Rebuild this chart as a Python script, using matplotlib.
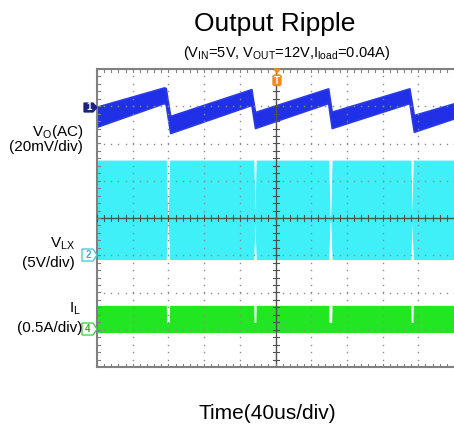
import numpy as np
import matplotlib
matplotlib.use('Agg')
import matplotlib.pyplot as plt
from matplotlib.patches import Polygon, FancyBboxPatch

plt.rcParams['font.family'] = ['Liberation Sans', 'DejaVu Sans']
plt.rcParams['mathtext.fontset'] = 'custom'
plt.rcParams['mathtext.rm'] = 'Liberation Sans'
plt.rcParams['mathtext.default'] = 'regular'

# ---------------- data ----------------
title = 'Output Ripple'
subtitle = r'(V$_{IN}$=5V, V$_{OUT}$=12V,I$_{load}$=0.04A)'
xlabel = 'Time(40us/div)'

time_per_div = 40.0          # us / div
# channel scale (units/div) and offset (div)
ch1_scale, ch1_offset = 20.0, 3.0    # mV/div
ch2_scale, ch2_offset = 5.0, -1.0    # V/div
ch4_scale, ch4_offset = 0.5, -3.0    # A/div

# Ch1 : output ripple (AC, mV) - envelope of the noisy trace
ripple_t = [-200, -125, -123, -118, -27, -23, 59, 63, 150, 155, 200]
ripple_hi = [-0.2, 10.1, 9.8, -5.2, 9.2, -3.1, 9.6, -2.9, 9.6, -4.7, 1.6]
ripple_lo = [-11.0, 1.7, 1.0, -14.4, 0.7, -11.7, 1.7, -11.7, 1.7, -13.7, -6.5]

# idle gaps between switching bursts (us)
gap_start = [-123, -25, 59, 151]
gap_end = [-118, -21, 64, 155]

# Ch2 : V_LX switching node (V)
vlx_high, vlx_low, vlx_idle = 12.7, -0.5, 5.0
# Ch4 : inductor current (A)
il_high, il_low, il_idle = 0.32, -0.03, 0.09

# ---------------- figure ----------------
W, H = 454, 425
fig = plt.figure(figsize=(W / 100, H / 100), dpi=100)
fig.patch.set_facecolor('white')

def fx(x):
    return x / W

def fy(y):
    return 1 - y / H

ax_l, ax_r, ax_t, ax_b = 97, 454, 69, 367
ax = fig.add_axes([fx(ax_l), fy(ax_b), (ax_r - ax_l) / W, (ax_b - ax_t) / H])
ax.set_xlim(-5, 5)
ax.set_ylim(-4, 4)
ax.set_xticks([])
ax.set_yticks([])
for s in ['left', 'top', 'bottom']:
    ax.spines[s].set_color('#808080')
    ax.spines[s].set_linewidth(1.5)
ax.spines['right'].set_visible(False)

# traces
rt = np.array(ripple_t) / time_per_div
ax.fill_between(rt, ch1_offset + np.array(ripple_hi) / ch1_scale,
                ch1_offset + np.array(ripple_lo) / ch1_scale,
                color='#1f30e6', lw=1.2, edgecolor='#2a3ae8', zorder=2)

def burst_envelope(high, low, idle_hi, idle_lo, ramp):
    ts, hi, lo = [-200.0], [high], [low]
    for s, e in zip(gap_start, gap_end):
        ts += [s, s + ramp, e - ramp, e]
        hi += [high, idle_hi, idle_hi, high]
        lo += [low, idle_lo, idle_lo, low]
    ts.append(200.0); hi.append(high); lo.append(low)
    return np.array(ts), np.array(hi), np.array(lo)

ts, hi, lo = burst_envelope(vlx_high, vlx_low, vlx_idle + 0.25, vlx_idle - 0.25, 1.5)
ax.fill_between(ts / time_per_div, ch2_offset + hi / ch2_scale, ch2_offset + lo / ch2_scale,
                color='#3ff0f8', lw=0.8, edgecolor='#3ff0f8', zorder=2)

ts, hi, lo = burst_envelope(il_high, il_low, il_idle, il_low, 0.4)
ax.fill_between(ts / time_per_div, ch4_offset + hi / ch4_scale, ch4_offset + lo / ch4_scale,
                color='#22e622', lw=0.8, edgecolor='#22e622', zorder=2)

# graticule: dotted grid
dot_c = '#8c8c8c'
ys = np.arange(-4, 4.001, 0.2)
xs = np.arange(-5, 5.001, 0.2)
for xi in range(-4, 5):
    if xi == 0:
        continue
    ax.plot(np.full_like(ys, xi), ys, ls='none', marker='s', ms=1.0, mew=0,
            color=dot_c, zorder=3)
for yi in range(-3, 4):
    if yi == 0:
        continue
    ax.plot(xs, np.full_like(xs, yi), ls='none', marker='s', ms=1.0, mew=0,
            color=dot_c, zorder=3)

# centre crosshair with minor ticks
cc = '#505050'
ax.axhline(0, color=cc, lw=1.0, zorder=3)
ax.axvline(0, color=cc, lw=1.0, zorder=3)
tx = 3 / 37.25
ty = 3 / 35.7
for x in xs:
    ax.plot([x, x], [-tx, tx], color=cc, lw=0.8, zorder=3)
    ax.plot([x, x], [4, 4 - tx], color='#808080', lw=0.8, zorder=3)
    ax.plot([x, x], [-4, -4 + tx], color='#808080', lw=0.8, zorder=3)
for y in ys:
    ax.plot([-ty, ty], [y, y], color=cc, lw=0.8, zorder=3)
    ax.plot([-5, -5 + ty], [y, y], color='#808080', lw=0.8, zorder=3)

# ---------------- channel markers ----------------
def marker(x0, x1, y0, y1, fc, ec, label, tc):
    xm = x1 - 4
    ym = (y0 + y1) / 2
    pts = [(x0, y0), (xm, y0), (x1, ym), (xm, y1), (x0, y1)]
    fig.patches.append(Polygon([(fx(a), fy(b)) for a, b in pts], closed=True,
                               transform=fig.transFigure, fc=fc, ec=ec, lw=0.9))
    fig.text(fx((x0 + xm) / 2 + 0.5), fy(ym), label, ha='center', va='center',
             fontsize=7, color=tc, fontweight='bold')

marker(84, 97, 103, 112, '#1a2480', '#1a2480', '1', 'white')
marker(82, 97, 249, 261, 'white', '#38c8d0', '2', '#38b8c0')
marker(82, 97, 323, 335, 'white', '#40c840', '4', '#30b030')

# trigger marker
org = '#f08c1e'
fig.patches.append(Polygon([(fx(274), fy(69)), (fx(280), fy(69)), (fx(277), fy(73))],
                           closed=True, transform=fig.transFigure, fc=org, ec=org))
fig.patches.append(FancyBboxPatch((fx(273), fy(85.5)), fx(8), 10.5 / H,
                                  boxstyle='round,pad=0,rounding_size=0.004',
                                  transform=fig.transFigure, fc=org, ec=org))
fig.text(fx(277), fy(80.5), 'T', ha='center', va='center', fontsize=7,
         color='white', fontweight='bold')

# ---------------- texts ----------------
fig.text(fx(275), fy(31.5), title, ha='center', va='baseline', fontsize=19)
fig.text(fx(287), fy(57.5), subtitle, ha='center', va='baseline', fontsize=10.5)
fig.text(fx(267), fy(419), xlabel, ha='center', va='baseline', fontsize=15)

lab_fs = 11
fig.text(fx(83), fy(135.8), r'V$_{O}$(AC)', ha='right', va='baseline', fontsize=lab_fs)
fig.text(fx(83), fy(150.8), '(20mV/div)', ha='right', va='baseline', fontsize=lab_fs)
fig.text(fx(75), fy(247.5), r'V$_{LX}$', ha='right', va='baseline', fontsize=lab_fs)
fig.text(fx(75), fy(266.5), '(5V/div)', ha='right', va='baseline', fontsize=lab_fs)
fig.text(fx(81), fy(313), r'I$_{L}$', ha='right', va='baseline', fontsize=lab_fs)
fig.text(fx(82), fy(332), '(0.5A/div)', ha='right', va='baseline', fontsize=lab_fs)

fig.savefig('out.png', dpi=100, facecolor='white')
